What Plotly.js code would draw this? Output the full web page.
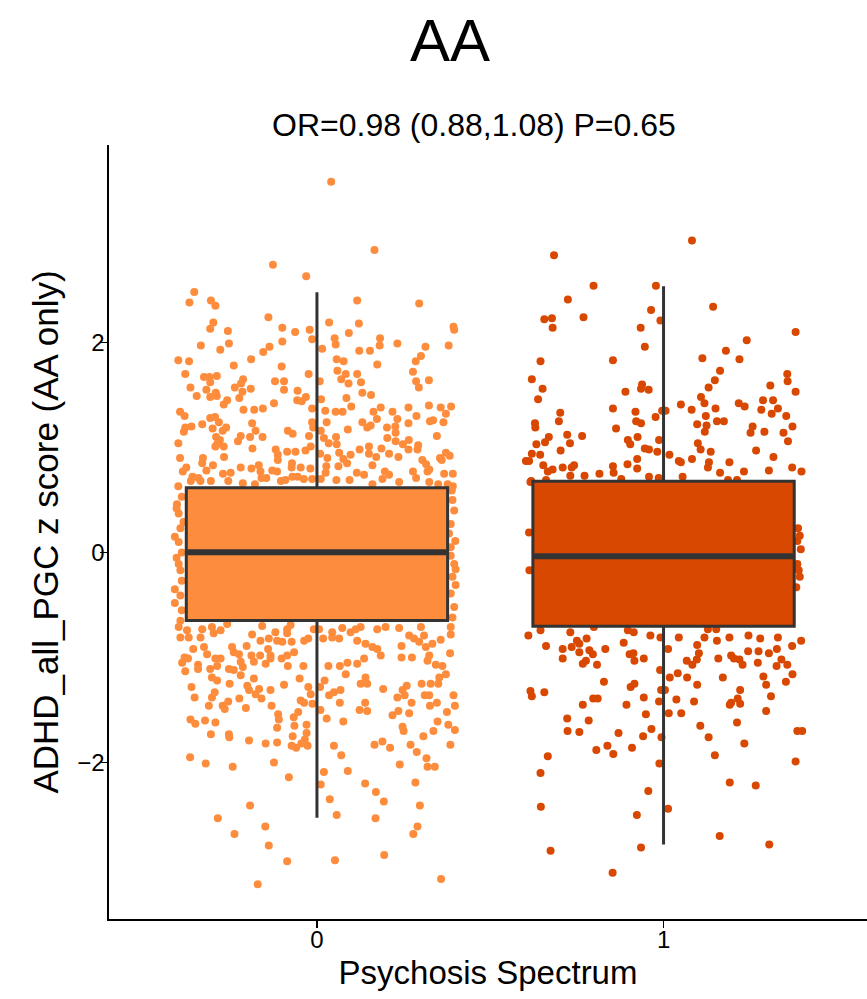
<!DOCTYPE html>
<html>
<head>
<meta charset="utf-8">
<script src="https://cdn.plot.ly/plotly-3.0.1.min.js"></script>
<style>html,body{margin:0;padding:0;background:#fff;}#chart{width:867px;height:999px;}</style>
</head>
<body>
<div id="chart"></div>
<script>
// ---------- DATA ----------
const categories = [0, 1];
const tickLabels = ['0', '1'];
const groupColors = ['#FD8D3C', '#D94801'];

// box statistics
const q1 = [-0.648, -0.702];
const medians = [0.003, -0.035];
const q3 = [0.616, 0.679];
const lowerWhisker = [-2.527, -2.781];
const upperWhisker = [2.479, 2.536];

// jittered points: [horizontal jitter, z score]
const g0Upper = [[-0.127,2.74],[-0.031,2.63],[-0.354,2.48],[-0.368,2.38],[-0.306,2.40],[-0.293,2.35],[-0.14,2.24],[-0.299,2.19],[-0.308,2.13],[-0.257,2.11],[-0.10,2.14],[-0.063,2.10],[-0.021,2.12],[-0.014,2.03],[-0.335,1.97],[-0.254,1.99],[-0.279,1.93],[-0.137,1.96],[-0.155,1.91],[-0.10,2.01],[-0.40,1.83],[-0.369,1.82],[-0.19,1.84],[-0.24,1.78],[-0.38,1.70],[-0.102,1.77],[-0.024,1.70],[-0.326,1.67],[-0.31,1.67],[-0.289,1.68],[-0.308,1.62],[-0.219,1.61],[-0.213,1.65],[-0.121,1.63],[-0.095,1.63],[-0.365,1.57],[-0.319,1.55],[-0.237,1.57],[-0.215,1.53],[-0.191,1.56],[-0.095,1.55],[-0.056,1.54],[-0.347,1.49],[-0.308,1.48],[-0.292,1.52],[-0.289,1.49],[-0.224,1.47],[-0.259,1.45],[-0.269,1.41],[-0.057,1.45],[-0.032,1.48],[-0.044,1.44],[-0.124,1.42],[-0.395,1.34],[-0.382,1.30],[-0.212,1.36],[-0.181,1.36],[-0.156,1.37],[-0.014,1.37],[-0.308,1.28],[-0.294,1.29],[-0.283,1.24],[-0.331,1.22],[-0.362,1.20],[-0.38,1.19],[-0.384,1.15],[-0.262,1.19],[-0.272,1.16],[-0.301,1.18],[-0.187,1.23],[-0.177,1.16],[-0.193,1.10],[-0.22,1.11],[-0.228,1.06],[-0.157,1.10],[-0.084,1.16],[-0.07,1.13],[-0.023,1.11],[-0.011,1.19],[-0.014,1.24],[-0.40,1.04],[-0.291,1.10],[-0.288,1.03],[-0.269,1.01],[-0.293,1.01],[-0.28,1.07],[-0.186,0.99],[-0.119,0.98],[-0.113,0.93],[-0.086,0.96],[-0.062,0.96],[-0.033,0.97],[-0.018,1.01],[-0.395,0.90],[-0.329,0.90],[-0.331,0.85],[-0.30,0.83],[-0.268,0.91],[-0.113,0.88],[-0.072,0.85],[-0.377,0.81],[-0.387,0.77],[-0.319,0.78],[-0.271,0.75],[-0.249,0.76],[-0.22,0.81],[-0.189,0.80],[-0.168,0.83],[-0.163,0.77],[-0.129,0.78],[-0.115,0.77],[-0.073,0.81],[-0.047,0.81],[-0.019,0.80],[-0.359,0.72],[-0.342,0.71],[-0.364,0.68],[-0.336,0.68],[-0.306,0.68],[-0.256,0.68],[-0.214,0.66],[-0.179,0.65],[-0.16,0.71],[-0.146,0.71],[-0.104,0.68],[-0.091,0.69],[-0.071,0.72],[-0.056,0.72],[-0.038,0.70],[-0.014,0.70],[-0.40,0.63],
[0.041,3.53],[0.166,2.88],[0.116,2.40],[0.295,2.37],[0.035,2.19],[0.121,2.18],[0.394,2.15],[0.396,2.12],[0.051,2.04],[0.054,1.98],[0.092,2.09],[0.015,1.94],[0.122,1.92],[0.153,1.92],[0.182,2.04],[0.181,1.97],[0.232,1.99],[0.313,1.96],[0.38,1.97],[0.057,1.84],[0.077,1.82],[0.174,1.79],[0.285,1.82],[0.30,1.87],[0.059,1.73],[0.083,1.70],[0.07,1.65],[0.091,1.61],[0.116,1.70],[0.127,1.62],[0.277,1.72],[0.286,1.63],[0.294,1.57],[0.323,1.64],[0.008,1.63],[0.131,1.52],[0.156,1.50],[0.085,1.47],[0.099,1.39],[0.012,1.46],[0.024,1.35],[0.054,1.34],[0.074,1.34],[0.028,1.24],[0.163,1.34],[0.184,1.38],[0.218,1.34],[0.264,1.38],[0.323,1.40],[0.357,1.38],[0.387,1.39],[0.372,1.32],[0.365,1.24],[0.173,1.27],[0.232,1.27],[0.287,1.30],[0.264,1.23],[0.131,1.24],[0.145,1.19],[0.155,1.21],[0.202,1.19],[0.226,1.20],[0.326,1.25],[0.335,1.26],[0.089,1.17],[0.011,1.16],[0.227,1.14],[0.346,1.11],[0.203,1.09],[0.055,1.10],[0.02,1.09],[0.034,1.04],[0.057,1.03],[0.227,1.06],[0.248,1.03],[0.265,1.07],[0.264,0.98],[0.292,1.02],[0.29,0.98],[0.123,0.98],[0.15,1.01],[0.186,0.99],[0.208,0.94],[0.171,0.91],[0.15,0.94],[0.097,0.93],[0.064,0.95],[0.235,0.91],[0.009,0.94],[0.03,0.90],[0.076,0.89],[0.087,0.85],[0.062,0.82],[0.027,0.82],[0.16,0.83],[0.304,0.88],[0.315,0.84],[0.355,0.90],[0.372,0.95],[0.383,0.92],[0.36,0.88],[0.324,0.79],[0.319,0.77],[0.367,0.75],[0.392,0.75],[0.277,0.77],[0.115,0.76],[0.136,0.74],[0.196,0.77],[0.189,0.70],[0.208,0.74],[0.025,0.76],[0.011,0.70],[0.056,0.69],[0.094,0.69],[0.237,0.67],[0.286,0.71],[0.324,0.67],[0.35,0.65],[0.377,0.65],[0.16,0.65],[0.392,0.63]];

const g0Lower = [[-0.394,-0.65],[-0.399,-0.71],[-0.375,-0.74],[-0.394,-0.81],[-0.37,-0.81],[-0.331,-0.73],[-0.336,-0.81],[-0.303,-0.71],[-0.298,-0.77],[-0.278,-0.74],[-0.259,-0.68],[-0.187,-0.78],[-0.158,-0.70],[-0.12,-0.76],[-0.086,-0.73],[-0.076,-0.69],[-0.086,-0.77],[-0.163,-0.84],[-0.139,-0.82],[-0.115,-0.84],[-0.10,-0.85],[-0.073,-0.85],[-0.037,-0.84],[-0.025,-0.82],[-0.009,-0.73],[-0.357,-0.92],[-0.326,-0.90],[-0.317,-0.97],[-0.245,-0.90],[-0.24,-0.95],[-0.225,-0.97],[-0.203,-0.89],[-0.189,-0.98],[-0.164,-0.98],[-0.141,-0.92],[-0.134,-0.98],[-0.102,-1.01],[-0.086,-0.98],[-0.066,-0.95],[-0.382,-1.00],[-0.389,-1.05],[-0.372,-1.01],[-0.343,-1.07],[-0.38,-1.13],[-0.343,-1.11],[-0.308,-1.11],[-0.288,-1.08],[-0.278,-1.01],[-0.293,-1.01],[-0.254,-1.11],[-0.24,-1.12],[-0.214,-1.09],[-0.22,-1.04],[-0.182,-1.04],[-0.148,-1.06],[-0.134,-1.01],[-0.084,-1.08],[-0.039,-1.08],[-0.303,-1.19],[-0.288,-1.22],[-0.22,-1.17],[-0.252,-1.25],[-0.201,-1.27],[-0.196,-1.31],[-0.182,-1.20],[-0.167,-1.30],[-0.177,-1.35],[-0.134,-1.31],[-0.095,-1.26],[-0.05,-1.20],[-0.025,-1.28],[-0.018,-1.35],[-0.362,-1.28],[-0.353,-1.38],[-0.303,-1.38],[-0.295,-1.33],[-0.312,-1.46],[-0.272,-1.46],[-0.266,-1.49],[-0.256,-1.42],[-0.224,-1.39],[-0.205,-1.48],[-0.16,-1.39],[-0.131,-1.46],[-0.047,-1.41],[-0.037,-1.43],[-0.013,-1.44],[-0.365,-1.59],[-0.351,-1.63],[-0.323,-1.60],[-0.293,-1.62],[-0.112,-1.54],[-0.11,-1.59],[-0.115,-1.67],[-0.054,-1.52],[-0.067,-1.57],[-0.065,-1.65],[-0.03,-1.64],[-0.03,-1.72],[-0.306,-1.73],[-0.254,-1.73],[-0.253,-1.76],[-0.196,-1.79],[-0.148,-1.82],[-0.115,-1.81],[-0.07,-1.75],[-0.073,-1.84],[-0.06,-1.86],[-0.045,-1.82],[-0.035,-1.78],[-0.027,-1.84],[-0.366,-1.95],[-0.321,-2.01],[-0.243,-2.04],[-0.124,-2.00],[-0.081,-2.14],[-0.193,-2.41],[-0.286,-2.53],[-0.238,-2.68],[-0.149,-2.61],[-0.139,-2.79],[-0.086,-2.94],[-0.171,-3.16],
[0.006,-0.73],[0.018,-0.82],[0.044,-0.76],[0.044,-0.81],[0.064,-0.82],[0.073,-0.72],[0.097,-0.76],[0.112,-0.73],[0.126,-0.71],[0.116,-0.84],[0.14,-0.87],[0.16,-0.90],[0.174,-0.92],[0.184,-0.98],[0.174,-0.73],[0.198,-0.71],[0.237,-0.72],[0.244,-0.89],[0.244,-1.00],[0.274,-1.00],[0.266,-0.79],[0.28,-0.82],[0.30,-0.71],[0.309,-0.79],[0.295,-0.85],[0.314,-0.90],[0.333,-0.87],[0.357,-0.83],[0.386,-0.71],[0.386,-0.78],[0.384,-0.96],[0.324,-0.98],[0.319,-1.03],[0.343,-1.07],[0.362,-1.08],[0.372,-1.16],[0.353,-1.19],[0.328,-1.25],[0.35,-1.25],[0.302,-1.25],[0.033,-1.08],[0.066,-1.08],[0.083,-1.16],[0.088,-1.05],[0.116,-1.06],[0.136,-1.01],[0.14,-1.19],[0.126,-1.25],[0.145,-1.25],[0.022,-1.22],[0.009,-1.28],[0.035,-1.36],[0.049,-1.33],[0.068,-1.31],[0.066,-1.43],[0.01,-1.50],[0.028,-1.58],[0.076,-1.61],[0.123,-1.50],[0.145,-1.51],[0.139,-1.43],[0.191,-1.30],[0.232,-1.38],[0.247,-1.31],[0.259,-1.27],[0.253,-1.36],[0.273,-1.43],[0.235,-1.51],[0.218,-1.55],[0.266,-1.53],[0.311,-1.36],[0.324,-1.36],[0.326,-1.46],[0.346,-1.43],[0.394,-1.36],[0.398,-1.46],[0.375,-1.52],[0.348,-1.61],[0.379,-1.64],[0.398,-1.69],[0.336,-1.70],[0.307,-1.75],[0.247,-1.66],[0.25,-1.70],[0.385,-1.83],[0.27,-1.83],[0.288,-1.90],[0.316,-1.96],[0.319,-2.04],[0.34,-2.04],[0.239,-2.02],[0.166,-1.83],[0.189,-1.80],[0.211,-1.86],[0.049,-1.84],[0.07,-1.93],[0.02,-2.09],[0.089,-2.08],[0.011,-2.21],[0.037,-2.35],[0.057,-2.50],[0.139,-2.20],[0.17,-2.28],[0.193,-2.37],[0.169,-2.53],[0.284,-2.19],[0.297,-2.41],[0.29,-2.61],[0.278,-2.68],[0.194,-2.88],[0.052,-2.93],[0.358,-3.11]];

const g0Side = [[-0.399,0.10],[-0.394,0.23],[-0.39,0.0],[-0.385,0.29],[-0.399,-0.11],[-0.39,-0.27],[-0.394,-0.41],[-0.39,-0.55],[-0.404,0.46],[-0.39,0.53],[-0.399,0.37],[-0.394,-0.17],[-0.41,0.15],[-0.405,-0.05],[-0.41,-0.35],[-0.405,0.42],[-0.41,-0.48],[0.391,0.50],[0.396,0.40],[0.386,0.27],[0.399,0.11],[0.386,-0.03],[0.396,-0.11],[0.391,-0.23],[0.40,-0.31],[0.386,-0.39],[0.396,-0.52],[0.391,-0.62],[0.389,0.59],[0.381,0.18],[0.40,-0.16],[0.386,0.05]];

const g1Upper = [[-0.316,2.83],[-0.202,2.54],[-0.276,2.41],[-0.344,2.22],[-0.322,2.23],[-0.32,2.14],[-0.231,2.24],[-0.022,2.54],[-0.036,2.31],[-0.009,2.21],[-0.066,2.14],[-0.054,1.96],[-0.355,1.82],[-0.146,1.83],[-0.38,1.65],[-0.349,1.56],[-0.362,1.46],[-0.062,1.60],[-0.065,1.56],[-0.043,1.55],[-0.11,1.53],[-0.146,1.37],[-0.298,1.33],[-0.302,1.25],[-0.371,1.23],[-0.37,1.19],[-0.137,1.18],[-0.081,1.34],[-0.079,1.25],[-0.065,1.23],[-0.023,1.29],[-0.004,1.35],[-0.331,1.10],[-0.342,1.05],[-0.278,1.12],[-0.27,1.04],[-0.235,1.11],[-0.367,1.03],[-0.103,1.07],[-0.096,1.03],[-0.075,1.10],[-0.013,1.07],[-0.054,0.99],[-0.042,0.98],[-0.018,0.96],[-0.297,0.97],[-0.38,0.94],[-0.356,0.93],[-0.397,0.87],[-0.388,0.87],[-0.347,0.83],[-0.32,0.79],[-0.334,0.77],[-0.291,0.81],[-0.265,0.81],[-0.258,0.83],[-0.269,0.73],[-0.228,0.73],[-0.185,0.75],[-0.146,0.82],[-0.144,0.76],[-0.104,0.84],[-0.076,0.89],[-0.076,0.80],[-0.042,0.72],[-0.382,0.68],[-0.339,0.69],[-0.122,0.70],[-0.014,0.71],
[0.082,2.97],[0.143,2.34],[0.381,2.10],[0.24,2.02],[0.18,1.92],[0.112,1.85],[0.219,1.84],[0.163,1.73],[0.148,1.64],[0.13,1.57],[0.108,1.48],[0.118,1.42],[0.05,1.41],[0.081,1.36],[0.122,1.30],[0.15,1.37],[0.097,1.22],[0.124,1.21],[0.119,1.15],[0.154,1.25],[0.174,1.25],[0.217,1.42],[0.234,1.39],[0.357,1.70],[0.358,1.63],[0.381,1.53],[0.308,1.59],[0.287,1.45],[0.316,1.45],[0.282,1.36],[0.312,1.32],[0.33,1.37],[0.354,1.30],[0.372,1.20],[0.257,1.20],[0.251,1.14],[0.291,1.15],[0.346,1.14],[0.359,1.06],[0.099,1.04],[0.107,0.98],[0.136,0.96],[0.267,0.97],[0.317,0.91],[0.082,0.89],[0.044,0.87],[0.05,0.86],[0.017,0.93],[0.131,0.86],[0.128,0.81],[0.19,0.86],[0.163,0.76],[0.232,0.77],[0.304,0.78],[0.371,0.81],[0.398,0.77],[0.055,0.72],[0.186,0.69],[0.212,0.69],[0.006,1.35]];

const g1Lower = [[-0.39,-0.79],[-0.355,-0.74],[-0.339,-0.89],[-0.291,-0.92],[-0.291,-1.01],[-0.269,-0.76],[-0.265,-0.90],[-0.25,-0.84],[-0.243,-0.87],[-0.243,-0.95],[-0.222,-0.82],[-0.214,-0.93],[-0.204,-0.97],[-0.233,-1.06],[-0.224,-1.03],[-0.192,-1.07],[-0.168,-0.92],[-0.201,-0.71],[-0.115,-0.86],[-0.103,-0.74],[-0.086,-0.76],[-0.098,-0.97],[-0.087,-0.96],[-0.084,-1.03],[-0.057,-1.01],[-0.038,-0.79],[-0.009,-0.81],[-0.01,-1.12],[-0.172,-1.23],[-0.384,-1.32],[-0.38,-1.37],[-0.344,-1.33],[-0.203,-1.39],[-0.19,-1.39],[-0.233,-1.45],[-0.107,-1.45],[-0.095,-1.28],[-0.084,-1.25],[-0.057,-1.38],[-0.013,-1.42],[-0.051,-1.54],[-0.278,-1.58],[-0.216,-1.60],[-0.277,-1.70],[-0.243,-1.71],[-0.13,-1.72],[-0.035,-1.68],[-0.059,-1.75],[-0.006,-1.76],[-0.194,-1.88],[-0.162,-1.84],[-0.145,-1.92],[-0.091,-1.86],[-0.334,-1.94],[-0.355,-2.10],[-0.012,-2.01],[-0.044,-2.27],[-0.354,-2.42],[-0.077,-2.50],[-0.326,-2.84],[-0.065,-2.81],[-0.147,-3.05],[-0.007,-1.31],
[0.013,-0.92],[0.044,-0.81],[0.097,-0.88],[0.118,-0.81],[0.128,-0.73],[0.152,-0.73],[0.154,-0.84],[0.19,-0.81],[0.245,-0.79],[0.279,-0.82],[0.33,-0.81],[0.371,-0.89],[0.397,-0.84],[0.327,-0.92],[0.304,-0.96],[0.274,-0.94],[0.244,-0.94],[0.34,-1.02],[0.326,-1.08],[0.357,-1.07],[0.372,-1.16],[0.353,-1.23],[0.067,-1.03],[0.083,-1.07],[0.096,-1.02],[0.102,-0.96],[0.158,-1.01],[0.195,-0.98],[0.203,-1.01],[0.219,-1.02],[0.228,-1.07],[0.272,-1.05],[0.018,-1.19],[0.041,-1.15],[0.068,-1.19],[0.171,-1.19],[0.288,-1.18],[0.296,-1.26],[0.097,-1.26],[0.004,-1.31],[0.037,-1.40],[0.088,-1.42],[0.015,-1.53],[0.051,-1.53],[0.221,-1.31],[0.214,-1.39],[0.195,-1.43],[0.191,-1.45],[0.221,-1.44],[0.31,-1.37],[0.296,-1.51],[0.212,-1.62],[0.106,-1.65],[0.13,-1.76],[0.233,-1.82],[0.148,-1.93],[0.386,-1.70],[0.40,-1.70],[0.381,-1.99],[0.191,-2.19],[0.266,-2.22],[0.013,-2.44],[0.162,-2.70],[0.305,-2.78]];

const g1Side = [[-0.388,0.19],[-0.387,-0.17],[-0.384,0.67],[0.388,0.23],[0.393,0.16],[0.396,0.03],[0.386,0.11],[0.39,-0.17],[0.393,-0.23],[0.383,-0.33],[0.386,-0.11]];

const titleText = 'AA';
const subtitleText = 'OR=0.98 (0.88,1.08) P=0.65';
const xTitle = 'Psychosis Spectrum';
const yTitle = 'ADHD_all_PGC z score (AA only)';
const yTickVals = [-2, 0, 2];
const yTickText = ['\u22122', '0', '2'];

// ---------- STYLE ----------
const FONT = 'Liberation Sans, Arial, Helvetica, sans-serif';
const boxWidth = 0.754;
const xRange = [-0.6, 1.587];
const yRange = [-3.49, 3.88];

const groups = [g0Upper.concat(g0Lower, g0Side), g1Upper.concat(g1Lower, g1Side)];

const traces = [];
groups.forEach((pts, i) => {
  traces.push({
    type: 'scatter', mode: 'markers',
    x: pts.map(p => categories[i] + p[0]),
    y: pts.map(p => p[1]),
    marker: {color: groupColors[i], size: 8, line: {width: 0}},
    hoverinfo: 'skip', showlegend: false, xaxis: 'x', yaxis: 'y'
  });
});
categories.forEach((c, i) => {
  traces.push({
    type: 'box', x: [c], q1: [q1[i]], median: [medians[i]], q3: [q3[i]],
    lowerfence: [lowerWhisker[i]], upperfence: [upperWhisker[i]],
    width: boxWidth, whiskerwidth: 0, boxpoints: false,
    fillcolor: groupColors[i], line: {color: '#333333', width: 3},
    hoverinfo: 'skip', showlegend: false, xaxis: 'x2', yaxis: 'y2'
  });
});
categories.forEach((c, i) => {
  traces.push({
    type: 'scatter', mode: 'lines',
    x: [c - boxWidth / 2 + 0.004, c + boxWidth / 2 - 0.004],
    y: [medians[i], medians[i]],
    line: {color: '#333333', width: 6},
    hoverinfo: 'skip', showlegend: false, xaxis: 'x2', yaxis: 'y2'
  });
});

const axisCommon = {
  showgrid: false, zeroline: false, showline: true, linecolor: '#000', linewidth: 1.6,
  ticks: 'outside', ticklen: 7, tickwidth: 1.6, tickcolor: '#000',
  tickfont: {family: FONT, size: 24, color: '#000'}
};

const layout = {
  width: 867, height: 999,
  margin: {l: 109, r: 0, t: 145, b: 80, pad: 0},
  paper_bgcolor: '#fff', plot_bgcolor: '#fff',
  font: {family: FONT, color: '#000'},
  title: {text: titleText, font: {family: FONT, size: 60, color: '#000'},
          x: 450 / 867, xanchor: 'center', xref: 'container', y: 1 - 40 / 999, yanchor: 'middle', yref: 'container'},
  xaxis: Object.assign({}, axisCommon, {
    range: xRange, tickvals: categories, ticktext: tickLabels, ticklabelstandoff: -8,
    title: {text: xTitle, font: {family: FONT, size: 33, color: '#000'}, standoff: 8}
  }),
  yaxis: Object.assign({}, axisCommon, {
    range: yRange, tickvals: yTickVals, ticktext: yTickText, ticklabelstandoff: -9,
    title: {text: yTitle, font: {family: FONT, size: 35, color: '#000'}, standoff: 8}
  }),
  xaxis2: {overlaying: 'x', range: xRange, visible: false, fixedrange: true},
  yaxis2: {overlaying: 'y', range: yRange, visible: false, fixedrange: true},
  annotations: [{
    text: subtitleText, xref: 'paper', yref: 'paper',
    x: (474 - 109) / 758, y: 1 + (919 - 125 - 774) / 774,
    xanchor: 'center', yanchor: 'middle', showarrow: false,
    font: {family: FONT, size: 32, color: '#000'}
  }]
};

Plotly.newPlot('chart', traces, layout, {displayModeBar: false, staticPlot: true});
</script>
</body>
</html>
